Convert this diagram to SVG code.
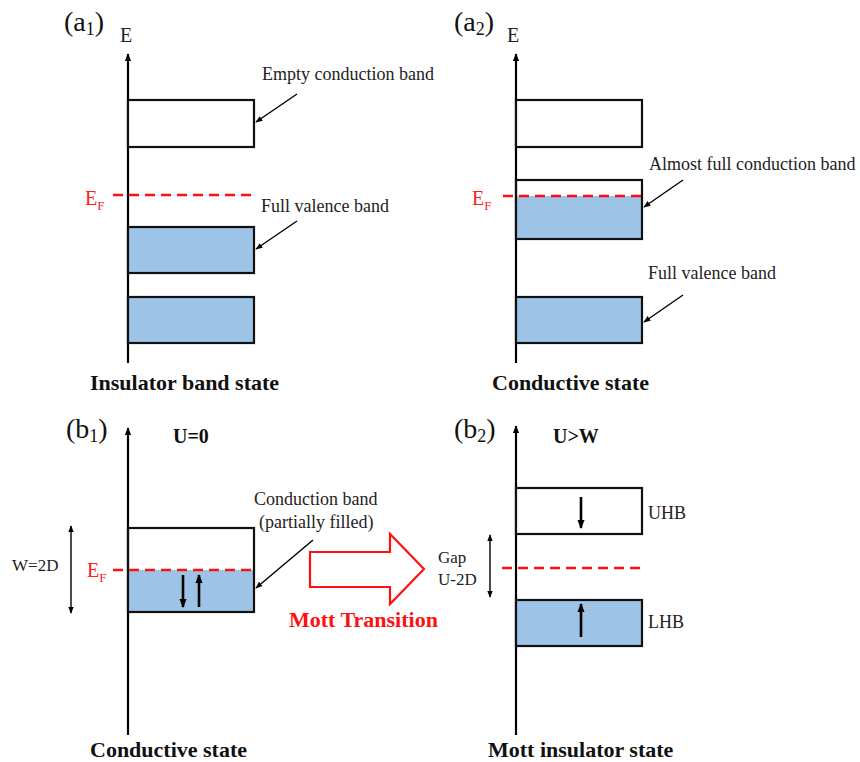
<svg xmlns="http://www.w3.org/2000/svg" width="860" height="762" viewBox="0 0 860 762">
<defs>
<marker id="ah" viewBox="0 0 10 10" refX="9" refY="5" markerWidth="8" markerHeight="8" markerUnits="userSpaceOnUse" orient="auto-start-reverse">
<path d="M0,1 L10,5 L0,9 Z" fill="#000"/>
</marker>
<marker id="ahs" viewBox="0 0 10 10" refX="9" refY="5" markerWidth="7" markerHeight="7" markerUnits="userSpaceOnUse" orient="auto-start-reverse">
<path d="M0,1 L10,5 L0,9 Z" fill="#000"/>
</marker>
<marker id="ahsp" viewBox="0 0 10 10" refX="9" refY="5" markerWidth="9" markerHeight="9" markerUnits="userSpaceOnUse" orient="auto-start-reverse">
<path d="M0,1 L10,5 L0,9 Z" fill="#000"/>
</marker>
</defs>
<style>
text{font-family:"Liberation Serif","Times New Roman",serif;fill:#222}
.lbl{font-size:18px}
.ax{font-size:20px}
.big{font-size:28px;fill:#111}
.bold{font-size:22px;font-weight:bold;fill:#111}
.ef{fill:#ff2020;font-size:20px}
.band{stroke:#111;stroke-width:2.2}
.empty{fill:#fff}
.full{fill:#9dc3e6}
.axis{stroke:#000;stroke-width:2.2;fill:none}
.dash{stroke:#ff1010;stroke-width:2.6;stroke-dasharray:10 6;fill:none}
.lead{stroke:#000;stroke-width:1.4;fill:none}
.spin{stroke:#000;stroke-width:2.6;fill:none}
</style>
<rect width="860" height="762" fill="#fff"/>

<!-- Panel a1 -->
<g id="a1">
<text class="big" x="64" y="31">(a<tspan font-size="18" dy="4">1</tspan><tspan dy="-4">)</tspan></text>
<text class="ax" x="120" y="42">E</text>
<line class="axis" x1="128" y1="363" x2="128" y2="54" marker-end="url(#ah)"/>
<g id="a1-cb"><rect class="band empty" x="128" y="100" width="126" height="47"/></g>
<g id="a1-vb1"><rect class="band full" x="128" y="227" width="126" height="46"/></g>
<g id="a1-vb2"><rect class="band full" x="128" y="297" width="126" height="46"/></g>
<line class="dash" x1="113" y1="195" x2="254" y2="195"/>
<text class="ef" x="85" y="205">E<tspan font-size="13" dy="5">F</tspan></text>
<text class="lbl" x="262" y="80">Empty conduction band</text>
<text class="lbl" x="261" y="212">Full valence band</text>
<text class="bold" x="90" y="390">Insulator band state</text>
</g>

<!-- Panel a2 -->
<g id="a2">
<text class="big" x="454" y="31">(a<tspan font-size="18" dy="4">2</tspan><tspan dy="-4">)</tspan></text>
<text class="ax" x="507" y="42">E</text>
<line class="axis" x1="516" y1="363" x2="516" y2="54" marker-end="url(#ah)"/>
<g id="a2-top"><rect class="band empty" x="516" y="100" width="126" height="47"/></g>
<g id="a2-cb">
<rect class="full" x="516" y="196" width="126" height="43"/>
<rect class="band" fill="none" x="516" y="180" width="126" height="59"/>
</g>
<g id="a2-vb"><rect class="band full" x="516" y="297" width="126" height="46"/></g>
<line class="dash" x1="503" y1="196" x2="642" y2="196"/>
<text class="ef" x="472" y="205">E<tspan font-size="13" dy="5">F</tspan></text>
<text class="lbl" x="649" y="170">Almost full conduction band</text>
<text class="lbl" x="648" y="279">Full valence band</text>
<text class="bold" x="492" y="390">Conductive state</text>
</g>

<!-- Panel b1 -->
<g id="b1">
<text class="big" x="66" y="438">(b<tspan font-size="18" dy="4">1</tspan><tspan dy="-4">)</tspan></text>
<text class="bold" x="173" y="443" style="font-size:20px">U=0</text>
<line class="axis" x1="128" y1="735" x2="128" y2="428" marker-end="url(#ah)"/>
<g id="b1-cb">
<rect class="full" x="128" y="570" width="126" height="42"/>
<rect class="band" fill="none" x="128" y="528" width="126" height="84"/>
</g>
<line class="dash" x1="113" y1="570" x2="254" y2="570"/>
<text class="ef" x="87" y="577">E<tspan font-size="13" dy="5">F</tspan></text>
<line class="spin" x1="183" y1="575" x2="183" y2="607" marker-end="url(#ahsp)"/>
<line class="spin" x1="199" y1="607" x2="199" y2="575" marker-end="url(#ahsp)"/>
<line class="lead" x1="71" y1="526" x2="71" y2="613" marker-start="url(#ahs)" marker-end="url(#ahs)"/>
<text class="lbl" x="12" y="571" style="font-size:17px">W=2D</text>
<text class="lbl" x="254" y="505">Conduction band</text>
<text class="lbl" x="259" y="528">(partially filled)</text>
<text class="bold" x="90" y="757">Conductive state</text>
</g>

<!-- Mott transition arrow -->
<g id="mott">
<polygon points="310,552 390,552 390,534 424,569 390,604 390,587 310,587" fill="#fff" stroke="#ff1010" stroke-width="2.2" stroke-linejoin="miter"/>
<text class="bold" x="289" y="627" style="fill:#ff1010">Mott Transition</text>
</g>

<!-- Panel b2 -->
<g id="b2">
<text class="big" x="454" y="438">(b<tspan font-size="18" dy="4">2</tspan><tspan dy="-4">)</tspan></text>
<text class="bold" x="553" y="443" style="font-size:20px">U&gt;W</text>
<line class="axis" x1="516" y1="735" x2="516" y2="426" marker-end="url(#ah)"/>
<g id="b2-uhb"><rect class="band empty" x="516" y="488" width="126" height="46"/></g>
<g id="b2-lhb"><rect class="band full" x="516" y="600" width="126" height="46"/></g>
<line class="spin" x1="581" y1="497" x2="581" y2="528" marker-end="url(#ahsp)"/>
<line class="spin" x1="581" y1="637" x2="581" y2="604" marker-end="url(#ahsp)"/>
<line class="dash" x1="502" y1="568" x2="642" y2="568"/>
<line class="lead" x1="490" y1="535" x2="490" y2="597" marker-start="url(#ahs)" marker-end="url(#ahs)"/>
<text class="lbl" x="438" y="563" style="font-size:17px">Gap</text>
<text class="lbl" x="438" y="585" style="font-size:17px">U-2D</text>
<text class="lbl" x="648" y="519">UHB</text>
<text class="lbl" x="648" y="628">LHB</text>
<text class="bold" x="488" y="757">Mott insulator state</text>
</g>

<!-- Leader connectors -->
<g id="connectors">
<line class="lead" x1="297" y1="94" x2="256" y2="122" marker-end="url(#ahs)"/>
<line class="lead" x1="297" y1="221" x2="256" y2="249" marker-end="url(#ahs)"/>
<line class="lead" x1="683" y1="180" x2="644" y2="207" marker-end="url(#ahs)"/>
<line class="lead" x1="683" y1="295" x2="644" y2="322" marker-end="url(#ahs)"/>
<line class="lead" x1="313" y1="540" x2="256" y2="588" marker-end="url(#ahs)"/>
</g>
</svg>
